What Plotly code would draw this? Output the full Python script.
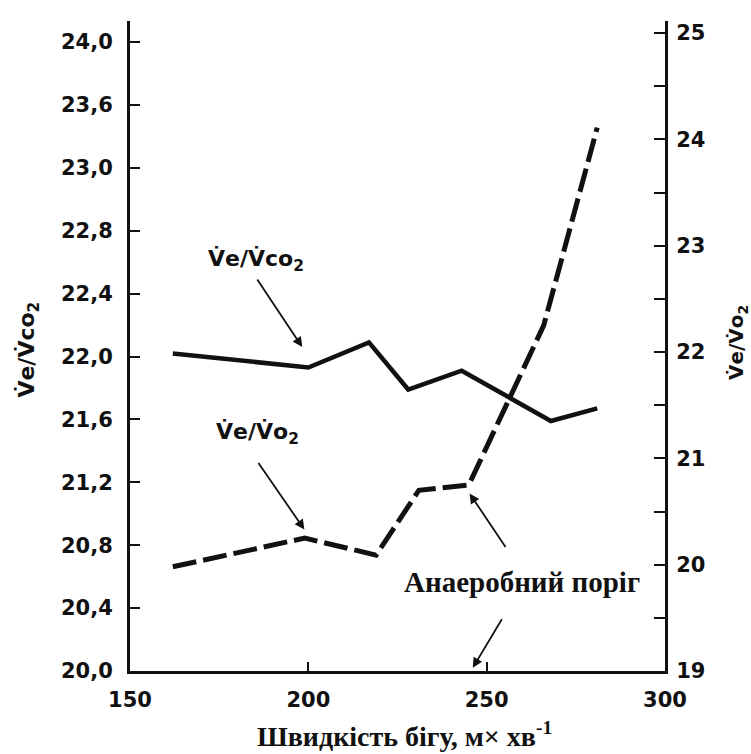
import plotly.graph_objects as go

# ---- data ----
speed_co2 = [162, 200, 217, 228, 243, 268, 281]
ve_vco2 = [22.02, 21.93, 22.09, 21.79, 21.91, 21.59, 21.67]

speed_o2 = [162, 199, 219, 231, 245, 266, 281]
ve_vo2 = [19.98, 20.25, 20.09, 20.70, 20.75, 22.25, 24.11]

x_ticks = [150, 200, 250, 300]
left_tickvals = [20.0, 20.4, 20.8, 21.2, 21.6, 22.0, 22.4, 22.8, 23.2, 23.6, 24.0]
left_ticktext = ["20,0", "20,4", "20,8", "21,2", "21,6", "22,0", "22,4", "22,8", "23,0", "23,6", "24,0"]
right_tickvals = [19, 20, 21, 22, 23, 24, 25]
right_ticktext = ["19", "20", "21", "22", "23", "24", "25"]

TICKFONT = dict(family="DejaVu Sans", size=21, color="#111", weight="bold")
SERIF = dict(family="Liberation Serif", size=29, color="#111", weight="bold")
SERIF_T = dict(family="Liberation Serif", size=28, color="#111", weight="bold")

fig = go.Figure()
fig.add_trace(go.Scatter(x=speed_co2, y=ve_vco2, mode="lines",
                         line=dict(color="#111", width=4.5), yaxis="y", showlegend=False))
fig.add_trace(go.Scatter(x=speed_o2, y=ve_vo2, mode="lines",
                         line=dict(color="#111", width=5, dash="24px,7px"), yaxis="y2", showlegend=False))

fig.update_layout(
    width=751, height=754,
    margin=dict(l=130, r=86, t=21, b=83),
    paper_bgcolor="white", plot_bgcolor="white",
    xaxis=dict(range=[150, 300], tickvals=x_ticks, ticktext=[str(v) for v in x_ticks],
               showline=True, linewidth=3, linecolor="#111", ticks="inside", ticklen=9,
               tickwidth=2, tickcolor="#111", showgrid=False, zeroline=False,
               tickfont=TICKFONT, ticklabelstandoff=8),
    yaxis=dict(range=[20, 24.134], tickvals=left_tickvals, ticktext=left_ticktext,
               showline=True, linewidth=3, linecolor="#111", ticks="inside", ticklen=10,
               tickwidth=2, tickcolor="#111", showgrid=False, zeroline=False,
               tickfont=TICKFONT, ticklabelstandoff=10),
    yaxis2=dict(range=[19, 25.113], tickvals=right_tickvals, ticktext=right_ticktext,
                overlaying="y", side="right",
                showline=True, linewidth=3, linecolor="#111", ticks="inside", ticklen=11,
                tickwidth=2, tickcolor="#111", showgrid=False, zeroline=False,
                tickfont=TICKFONT, ticklabelstandoff=4,
                minor=dict(dtick=0.5, ticks="inside", ticklen=11, tickwidth=2, tickcolor="#111",
                           showgrid=False)),
)

LBL = dict(family="DejaVu Sans", size=22, color="#111", weight="bold")
LBL_R = dict(family="DejaVu Sans", size=20, color="#111", weight="bold")

# series labels
fig.add_annotation(x=185.4, y=22.61, xref="x", yref="y", text="V̇e/V̇co<sub>2</sub>",
                   showarrow=False, font=LBL, xanchor="center", yanchor="middle")
fig.add_annotation(x=185.7, y=21.51, xref="x", yref="y", text="V̇e/V̇o<sub>2</sub>",
                   showarrow=False, font=LBL, xanchor="center", yanchor="middle")
fig.add_annotation(x=259.8, y=20.566, xref="x", yref="y", text="Анаеробний поріг",
                   showarrow=False, font=SERIF, xanchor="center", yanchor="middle")

ARW = dict(showarrow=True, arrowhead=2, arrowsize=1.1, arrowwidth=1.8, arrowcolor="#111", text="")
fig.add_annotation(x=198.3, y=22.06, xref="x", yref="y", ax=-46, ay=-69, **ARW)
fig.add_annotation(x=198.9, y=20.33, xref="x", yref="y2", ax=-47, ay=-68, **ARW)
fig.add_annotation(x=245.2, y=20.67, xref="x", yref="y2", ax=37, ay=55, **ARW)
fig.add_annotation(x=246.1, y=19.03, xref="x", yref="y2", ax=30, ay=-50, **ARW)

# axis titles
fig.add_annotation(x=-0.19, y=0.495, xref="paper", yref="paper", text="V̇e/V̇co<sub>2</sub>",
                   textangle=-90, showarrow=False, font=LBL, xanchor="center", yanchor="middle")
fig.add_annotation(x=1.135, y=0.505, xref="paper", yref="paper", text="V̇e/V̇o<sub>2</sub>",
                   textangle=-90, showarrow=False, font=LBL_R, xanchor="center", yanchor="middle")
fig.add_annotation(x=0.514, y=-0.097, xref="paper", yref="paper",
                   text="Швидкість бігу, м× хв<sup>-1</sup>",
                   showarrow=False, font=SERIF_T, xanchor="center", yanchor="middle")

fig.write_html("out.html")
